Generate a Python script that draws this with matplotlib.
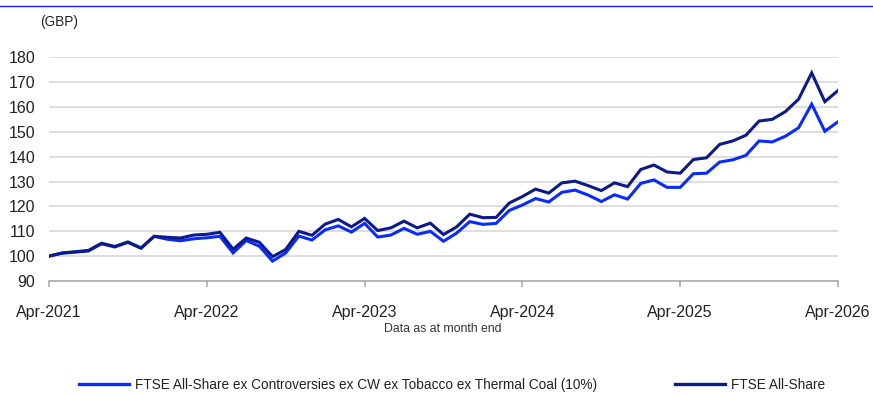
import numpy as np
import matplotlib
matplotlib.use("Agg")
import matplotlib.pyplot as plt
from matplotlib.lines import Line2D

plt.rcParams['font.family'] = ['Liberation Sans', 'DejaVu Sans']

# monthly index levels, rebased to 100 at Apr-2021
months = np.arange(61)
tick_labels = ["Apr-2021", "Apr-2022", "Apr-2023", "Apr-2024", "Apr-2025", "Apr-2026"]

ex_controversies = [
    100.0, 101.2, 101.6, 102.1, 105.0, 103.7, 105.6, 103.2, 108.0, 106.8,
    106.2, 107.0, 107.4, 108.0, 101.3, 106.3, 104.0, 98.0, 101.3, 108.1,
    106.5, 110.6, 112.2, 109.7, 113.2, 107.7, 108.5, 111.2, 108.8, 110.0,
    106.0, 109.3, 113.9, 112.8, 113.2, 118.4, 120.6, 123.2, 121.8, 125.7,
    126.6, 124.6, 122.0, 124.7, 123.0, 129.3, 130.7, 127.7, 127.7, 133.2,
    133.4, 137.9, 138.8, 140.6, 146.4, 146.0, 148.3, 151.7, 161.2, 150.3,
    154.1,
]
all_share = [
    100.0, 101.3, 101.8, 102.3, 105.2, 103.9, 105.7, 103.3, 108.0, 107.6,
    107.3, 108.5, 108.8, 109.6, 102.8, 107.3, 105.6, 99.8, 102.7, 110.0,
    108.4, 112.9, 114.8, 111.8, 115.2, 110.3, 111.4, 114.1, 111.4, 113.3,
    108.7, 111.8, 116.9, 115.5, 115.6, 121.4, 124.0, 127.0, 125.4, 129.5,
    130.2, 128.4, 126.4, 129.5, 128.0, 134.9, 136.7, 133.9, 133.4, 138.9,
    139.6, 145.0, 146.4, 148.7, 154.4, 155.1, 158.2, 163.2, 173.8, 162.2,
    166.7,
]
series_names = [
    "FTSE All-Share ex Controversies ex CW ex Tobacco ex Thermal Coal (10%)",
    "FTSE All-Share",
]
colors = ["#0a2bff", "#0d1a8c"]

fig = plt.figure(figsize=(8.73, 3.94), dpi=100)
ax = fig.add_axes([0.0561, 0.2868, 0.9038, 0.5673])

ax.plot(months, ex_controversies, color=colors[0], lw=2.2, solid_joinstyle="miter", zorder=3)
ax.plot(months, all_share, color=colors[1], lw=2.2, solid_joinstyle="miter", zorder=4)

ax.set_xlim(0, 60)
ax.set_ylim(90, 180)
ax.set_yticks(np.arange(90, 181, 10))
ax.set_xticks(np.arange(0, 61, 12))
ax.set_xticklabels(tick_labels)

ax.grid(axis="y", color="#d4d4d4", lw=1.1)
ax.set_axisbelow(True)
for side in ["top", "right", "left"]:
    ax.spines[side].set_visible(False)
ax.spines["bottom"].set_color("#a6a6a6")
ax.spines["bottom"].set_linewidth(1.1)

ax.tick_params(axis="y", length=0, pad=10, labelsize=11.5, labelcolor="#222222")
ax.tick_params(axis="x", length=4, width=1.1, color="#a6a6a6", direction="out",
               pad=13.5, labelsize=11.5, labelcolor="#222222")

fig.text(0.046, 0.944, "(GBP)", fontsize=9.8, color="#222222", va="center")
fig.text(0.507, 0.166, "Data as at month end", fontsize=8.8, color="#333333",
         ha="center", va="center")

# thin rule across the top
fig.add_artist(Line2D([0, 1], [0.986, 0.986], color="#1a1aff", lw=1.0))

handles = [Line2D([], [], color=c, lw=2.4) for c in colors]
fig.legend(handles, series_names, loc="center", bbox_to_anchor=(0.518, 0.024),
           ncol=2, frameon=False, fontsize=9.8, handlelength=3.7,
           columnspacing=5.7, handletextpad=0.45, labelcolor="#222222",
           borderpad=0.2)

fig.savefig("out.png", dpi=100)
